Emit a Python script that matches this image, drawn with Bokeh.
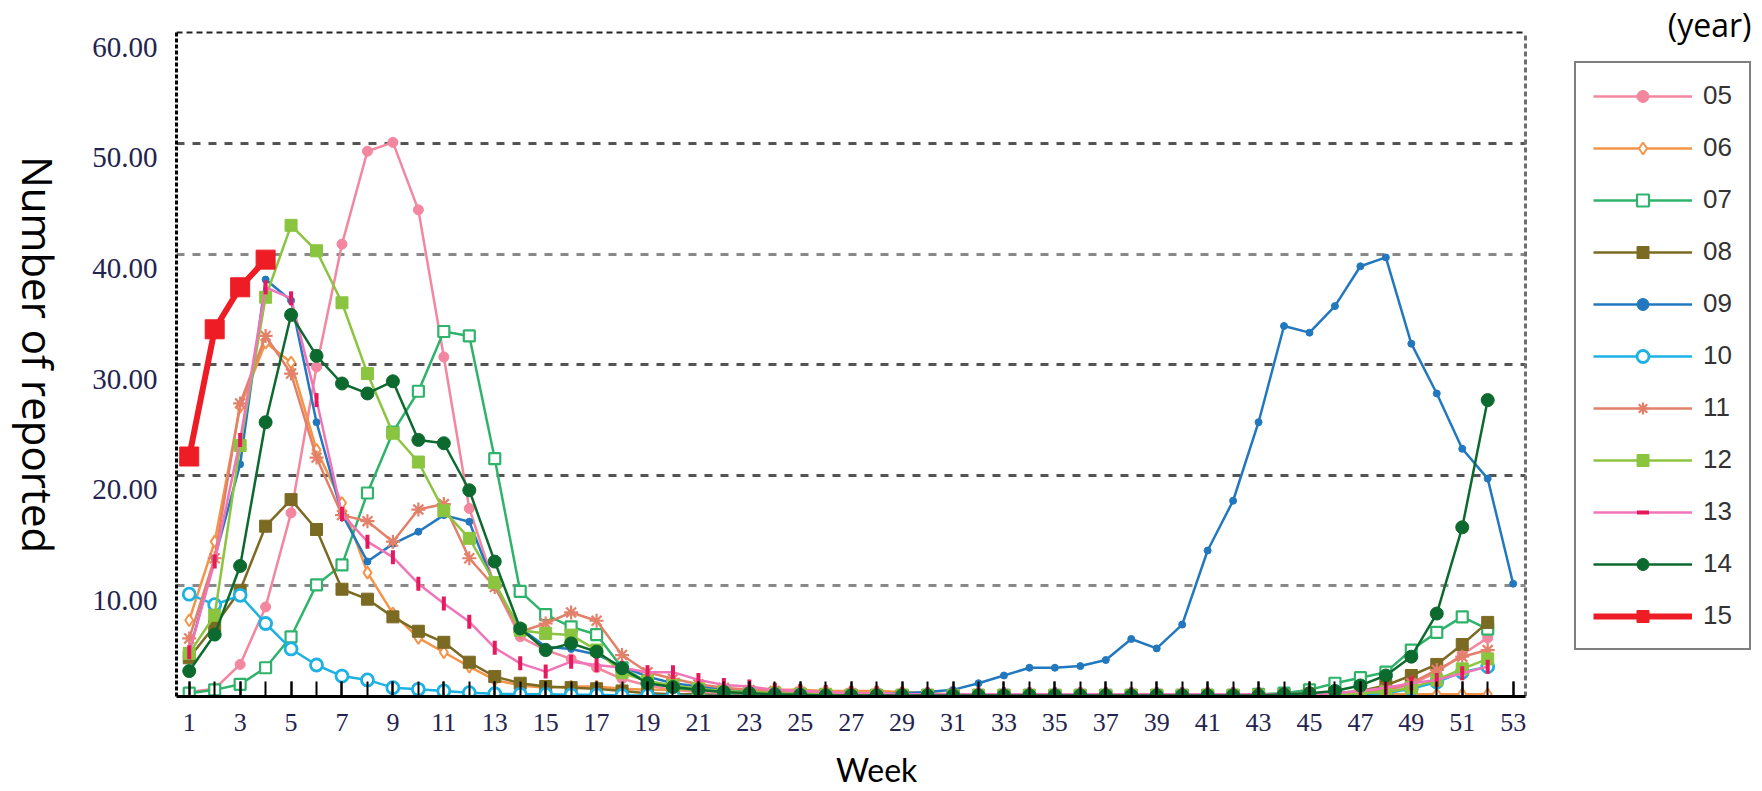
import math
from bokeh.plotting import figure
from bokeh.layouts import row
from bokeh.models import (Range1d, LinearAxis, FixedTicker, NumeralTickFormatter, Grid,
                          Label, Legend, LegendItem)
from bokeh.embed import file_html
from bokeh.resources import INLINE

# ---------------- data ----------------
weeks52 = list(range(1, 53))
weeks53 = list(range(1, 54))
weeks15 = [1, 2, 3, 4]
odd_weeks = list(range(1, 54, 2))
y_ticks = [10, 20, 30, 40, 50, 60]

years = ["05", "06", "07", "08", "09", "10", "11", "12", "13", "14", "15"]

y05 = [0.4, 0.7, 2.9, 8.1, 16.6, 29.8, 40.9, 49.3, 50.1, 44.0,
       30.7, 17.0, 10.0, 5.4, 4.2, 3.4, 2.6, 1.6, 1.0, 0.6,
       0.4, 0.3, 0.2, 0.2, 0.1, 0.1, 0.1, 0.1, 0.05, 0.05,
       0.05, 0.05, 0.05, 0.05, 0.05, 0.05, 0.05, 0.05, 0.05, 0.05,
       0.05, 0.05, 0.05, 0.1, 0.1, 0.2, 0.3, 0.5, 1.1, 2.2,
       3.8, 5.3]
y06 = [6.9, 14.0, 26.2, 32.0, 30.2, 22.3, 17.5, 11.2, 7.5, 5.3,
       4.0, 2.7, 1.5, 1.0, 0.8, 0.9, 0.9, 0.7, 0.6, 0.6,
       0.6, 0.6, 0.6, 0.6, 0.6, 0.5, 0.5, 0.5, 0.4, 0.3,
       0.2, 0.2, 0.2, 0.2, 0.2, 0.2, 0.2, 0.2, 0.2, 0.2,
       0.2, 0.2, 0.2, 0.2, 0.2, 0.2, 0.2, 0.2, 0.2, 0.2,
       0.2, 0.2]
y07 = [0.3, 0.6, 1.1, 2.6, 5.4, 10.1, 11.9, 18.4, 23.9, 27.6,
       33.0, 32.6, 21.5, 9.5, 7.4, 6.3, 5.6, 2.6, 1.3, 0.8,
       0.6, 0.4, 0.3, 0.2, 0.2, 0.1, 0.1, 0.1, 0.1, 0.1,
       0.1, 0.1, 0.1, 0.1, 0.1, 0.1, 0.1, 0.1, 0.1, 0.1,
       0.1, 0.1, 0.2, 0.3, 0.6, 1.2, 1.7, 2.2, 4.2, 5.8,
       7.2, 6.1]
y08 = [3.5, 6.4, 9.6, 15.4, 17.8, 15.1, 9.7, 8.8, 7.2, 5.9,
       4.9, 3.1, 1.8, 1.2, 0.9, 0.8, 0.7, 0.5, 0.3, 0.2,
       0.2, 0.1, 0.1, 0.1, 0.1, 0.1, 0.1, 0.1, 0.1, 0.1,
       0.1, 0.1, 0.1, 0.1, 0.1, 0.1, 0.1, 0.1, 0.1, 0.1,
       0.1, 0.1, 0.1, 0.1, 0.2, 0.3, 0.5, 1.0, 1.9, 2.9,
       4.7, 6.7]
y09 = [4.0, 12.5, 21.0, 37.7, 35.8, 24.8, 16.5, 12.2, 13.8, 14.9,
       16.4, 15.8, 9.9, 6.2, 4.5, 4.3, 3.8, 2.7, 1.8, 1.2,
       0.9, 0.6, 0.4, 0.3, 0.2, 0.2, 0.2, 0.2, 0.3, 0.4,
       0.6, 1.2, 1.9, 2.6, 2.6, 2.75, 3.3, 5.2, 4.35, 6.5,
       13.2, 17.7, 24.8, 33.5, 32.9, 35.3, 38.9, 39.7, 31.9, 27.4,
       22.4, 19.7, 10.2]
y10 = [9.25, 8.3, 9.15, 6.6, 4.3, 2.85, 1.85, 1.5, 0.8, 0.65,
       0.5, 0.35, 0.25, 0.2, 0.2, 0.15, 0.15, 0.1, 0.1, 0.1,
       0.05, 0.05, 0.05, 0.05, 0.05, 0.05, 0.05, 0.05, 0.05, 0.05,
       0.05, 0.05, 0.05, 0.05, 0.05, 0.05, 0.05, 0.05, 0.05, 0.05,
       0.05, 0.05, 0.05, 0.05, 0.05, 0.1, 0.2, 0.3, 0.7, 1.3,
       2.2, 2.7]
y11 = [5.25, 12.5, 26.5, 32.6, 29.2, 21.6, 16.4, 15.85, 14.0, 16.9,
       17.4, 12.5, 9.9, 5.85, 6.6, 7.6, 6.85, 3.75, 2.2, 1.6,
       1.1, 0.8, 0.6, 0.5, 0.4, 0.3, 0.3, 0.2, 0.2, 0.2,
       0.2, 0.2, 0.2, 0.2, 0.2, 0.2, 0.2, 0.2, 0.2, 0.2,
       0.2, 0.2, 0.2, 0.2, 0.3, 0.3, 0.4, 0.6, 1.2, 2.4,
       3.6, 4.2]
y12 = [3.9, 7.35, 22.7, 36.1, 42.6, 40.3, 35.6, 29.2, 23.8, 21.2,
       16.8, 14.3, 10.3, 6.0, 5.7, 5.55, 4.2, 2.15, 1.4, 1.0,
       0.7, 0.5, 0.4, 0.3, 0.2, 0.2, 0.1, 0.1, 0.1, 0.1,
       0.1, 0.1, 0.1, 0.1, 0.1, 0.1, 0.1, 0.1, 0.1, 0.1,
       0.1, 0.1, 0.1, 0.1, 0.1, 0.2, 0.3, 0.4, 0.8, 1.5,
       2.5, 3.4]
y13 = [4.0, 12.2, 23.2, 37.0, 36.0, 26.8, 16.5, 14.0, 12.6, 10.2,
       8.4, 6.75, 4.4, 3.0, 2.25, 3.15, 2.85, 2.6, 2.2, 2.2,
       1.5, 1.05, 0.9, 0.6, 0.5, 0.4, 0.3, 0.3, 0.2, 0.2,
       0.2, 0.2, 0.2, 0.2, 0.2, 0.2, 0.2, 0.2, 0.2, 0.2,
       0.2, 0.2, 0.2, 0.2, 0.2, 0.3, 0.5, 0.8, 1.2, 1.5,
       2.1, 2.7]
y14 = [2.3, 5.6, 11.8, 24.8, 34.5, 30.8, 28.3, 27.4, 28.5, 23.2,
       22.9, 18.65, 12.2, 6.15, 4.2, 4.8, 4.05, 2.55, 1.2, 0.85,
       0.6, 0.4, 0.3, 0.2, 0.15, 0.1, 0.1, 0.1, 0.1, 0.1,
       0.1, 0.1, 0.1, 0.1, 0.1, 0.1, 0.1, 0.1, 0.1, 0.1,
       0.1, 0.1, 0.1, 0.2, 0.3, 0.5, 1.0, 1.9, 3.6, 7.5,
       15.3, 26.8]
y15 = [21.7, 33.2, 37.0, 39.5]

# ---------------- styles ----------------
styles = {
    "05": dict(color="#F2879F", marker="circle", size=10, fill="#F2879F", lw=2.5, mlw=1),
    "06": dict(color="#F39449", marker="diamond", size=12, fill="white", lw=2.5, mlw=2),
    "07": dict(color="#2FB36B", marker="square", size=11, fill="white", lw=2.5, mlw=2.2),
    "08": dict(color="#7B6A22", marker="square", size=12, fill="#7B6A22", lw=2.5, mlw=1),
    "09": dict(color="#2278BF", marker="circle", size=7, fill="#2278BF", lw=2.5, mlw=1),
    "10": dict(color="#1DB2E3", marker="circle", size=12, fill="white", lw=2.5, mlw=2.8),
    "11": dict(color="#E3806A", marker="asterisk", size=14, fill="#E3806A", lw=2.5, mlw=2.2),
    "12": dict(color="#8BC53F", marker="square", size=12, fill="#8BC53F", lw=2.5, mlw=1),
    "13": dict(color="#F274B8", marker="dash", size=14, fill="#E6195C", lw=2.5, mlw=4,
               mcolor="#E6195C", angle=math.pi / 2),
    "14": dict(color="#0C6A2F", marker="circle", size=13, fill="#0C6A2F", lw=2.5, mlw=1),
    "15": dict(color="#EE1C25", marker="square", size=19, fill="#EE1C25", lw=6, mlw=1),
}
series = {"05": (weeks52, y05), "06": (weeks52, y06), "07": (weeks52, y07), "08": (weeks52, y08),
          "09": (weeks53, y09), "10": (weeks52, y10), "11": (weeks52, y11), "12": (weeks52, y12),
          "13": (weeks52, y13), "14": (weeks52, y14), "15": (weeks15, y15)}

TOTAL_H = 791
LEFT_W = 80
MAIN_W = 1680

X0, X1 = 0.5, 53.5          # extent of the drawn axis box
X_VIEW_END = 62.715         # frame continues to the right to hold the legend
Y_VIEW_END = 62.93          # frame continues above to hold "(year)"

# ---------------- left strip with the rotated y title ----------------
left = figure(width=LEFT_W, height=TOTAL_H, x_range=Range1d(0, LEFT_W), y_range=Range1d(0, TOTAL_H),
              output_backend="svg", toolbar_location=None,
              x_axis_location=None, y_axis_location=None, min_border=0,
              min_border_left=0, min_border_right=0, min_border_top=0, min_border_bottom=0)
left.outline_line_color = None
for g in list(left.center):
    g.visible = False
left.add_layout(Label(x=38, y=388.5, text="Number of reported", angle=-math.pi / 2,
                      text_align="center", text_baseline="middle", text_font="Open Sans",
                      text_font_size="42px", text_color="black"))

# ---------------- main chart ----------------
p = figure(width=MAIN_W, height=TOTAL_H, x_range=Range1d(X0, X_VIEW_END), y_range=Range1d(0, Y_VIEW_END),
           output_backend="svg", toolbar_location=None,
           x_axis_location=None, y_axis_location=None,
           min_border_left=96, min_border_right=0, min_border_top=0, min_border_bottom=94)
p.outline_line_color = None
p.background_fill_color = "white"
p.border_fill_color = "white"
for g in list(p.center):
    g.visible = False


def hline(yv, color, dash, width):
    g = Grid(dimension=1, ticker=FixedTicker(ticks=[yv]), grid_line_color=color,
             grid_line_dash=dash, grid_line_width=width)
    try:
        g.cross_bounds = (X0, X1)
        p.add_layout(g)
    except Exception:
        p.segment(x0=X0, x1=X1, y0=yv, y1=yv, line_color=color, line_dash=dash, line_width=width)


def vline(xv, color, dash, width):
    g = Grid(dimension=0, ticker=FixedTicker(ticks=[xv]), grid_line_color=color,
             grid_line_dash=dash, grid_line_width=width)
    try:
        g.cross_bounds = (0, 60)
        p.add_layout(g)
    except Exception:
        p.segment(x0=xv, x1=xv, y0=0, y1=60, line_color=color, line_dash=dash, line_width=width)


for yv, col in [(10, "#8a8a8a"), (20, "#555555"), (30, "#555555"), (40, "#8a8a8a"), (50, "#555555")]:
    hline(yv, col, "8 8", 3)
hline(60, "#222222", "6 4", 2)
vline(X1, "#6e6e6e", "5 3", 3)

# x axis
xa = LinearAxis(ticker=FixedTicker(ticks=odd_weeks, minor_ticks=weeks53), bounds=(X0, X1))
xa.axis_line_color = "black"
xa.axis_line_width = 3
xa.major_tick_in = 15
xa.major_tick_out = 0
xa.minor_tick_in = 15
xa.minor_tick_out = 0
xa.major_tick_line_width = 2
xa.minor_tick_line_width = 2
xa.major_tick_line_color = "black"
xa.minor_tick_line_color = "black"
xa.major_label_text_font = "Liberation Serif"
xa.major_label_text_font_size = "26px"
xa.major_label_text_color = "#232350"
xa.major_label_standoff = 17
p.add_layout(xa, "below")

# second (bare) bottom axis carrying the "Week" title under week 28
xt = LinearAxis(ticker=FixedTicker(ticks=[28]), major_label_overrides={28: "Week"})
xt.axis_line_color = None
xt.major_tick_line_color = None
xt.minor_tick_line_color = None
xt.major_tick_in = 0
xt.major_tick_out = 0
xt.minor_tick_in = 0
xt.minor_tick_out = 0
xt.major_label_standoff = 16
xt.major_label_text_font = "Lato"
xt.major_label_text_font_size = "32px"
xt.major_label_text_color = "black"
p.add_layout(xt, "below")

# y axis (labels drawn slightly below their grid lines, as in the source)
p.extra_y_ranges = {"lbl": Range1d(1.3, Y_VIEW_END + 1.3)}
ya = LinearAxis(y_range_name="lbl", ticker=FixedTicker(ticks=y_ticks), bounds=(1.3, 61.3),
                formatter=NumeralTickFormatter(format="0.00"))
ya.axis_line_color = "black"
ya.axis_line_width = 3
ya.axis_line_dash = "4 2"
ya.major_tick_in = 0
ya.major_tick_out = 0
ya.minor_tick_in = 0
ya.minor_tick_out = 0
ya.major_label_text_font = "Liberation Serif"
ya.major_label_text_font_size = "29px"
ya.major_label_text_color = "#232350"
ya.major_label_standoff = 19
p.add_layout(ya, "left")

# series
items = []
for yr in years:
    st = styles[yr]
    xs, ys = series[yr]
    rl = p.line(xs, ys, line_color=st["color"], line_width=st["lw"])
    kw = dict(marker=st["marker"], size=st["size"], fill_color=st["fill"],
              line_color=st.get("mcolor", st["color"]), line_width=st["mlw"])
    if "angle" in st:
        kw["angle"] = st["angle"]
    rs = p.scatter(xs, ys, **kw)
    items.append(LegendItem(label=yr, renderers=[rl, rs]))

legend = Legend(items=items, location=(1398, 46))
legend.margin = 0
legend.padding = 17
legend.spacing = 21
legend.glyph_width = 99
legend.glyph_height = 30
legend.label_height = 30
legend.label_standoff = 11
legend.label_text_font = "Liberation Sans"
legend.label_text_font_size = "26px"
legend.label_text_color = "#333333"
legend.border_line_color = "black"
legend.border_line_width = 2
legend.background_fill_color = "white"
legend.background_fill_alpha = 1
p.add_layout(legend)

p.add_layout(Label(x=62.36, y=60.8, text="(year)", text_align="right", text_baseline="alphabetic",
                   text_font="Open Sans", text_font_size="32px", text_color="black"))

layout = row(left, p)
open("out.html", "w").write(file_html(layout, INLINE))
